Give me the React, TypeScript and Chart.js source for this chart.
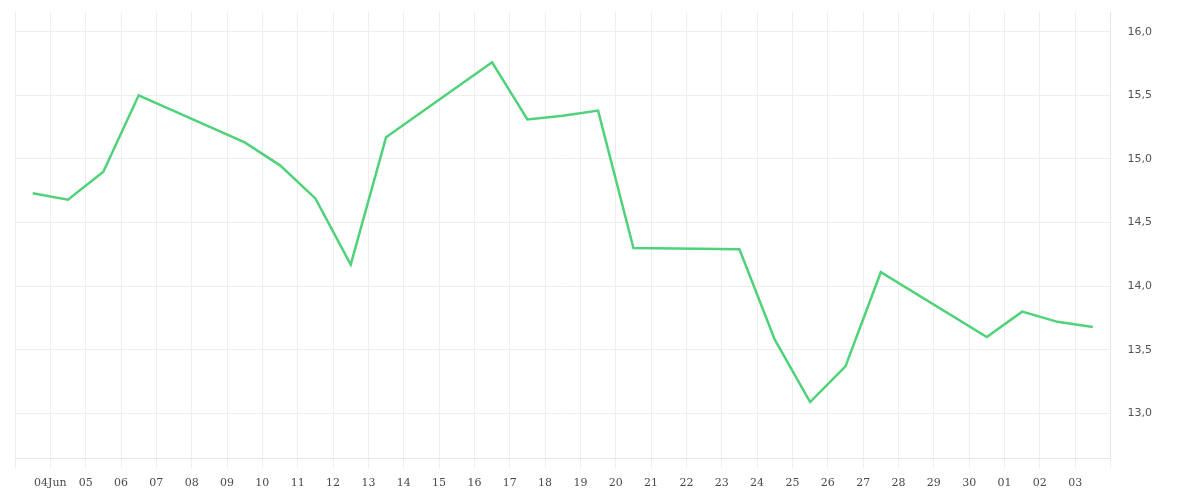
import { useEffect, useRef } from "react";
import Chart from "chart.js/auto";

// trading days (2025), one closing value each
const dates = [
	"2025-06-03", "2025-06-04", "2025-06-05", "2025-06-06",
	"2025-06-09", "2025-06-10", "2025-06-11", "2025-06-12", "2025-06-13",
	"2025-06-16", "2025-06-17", "2025-06-18", "2025-06-19", "2025-06-20",
	"2025-06-23", "2025-06-24", "2025-06-25", "2025-06-26", "2025-06-27",
	"2025-06-30", "2025-07-01", "2025-07-02", "2025-07-03"
];
const values = [
	14.73, 14.68, 14.9, 15.5,
	15.13, 14.95, 14.69, 14.17, 15.17,
	15.76, 15.31, 15.34, 15.38, 14.3,
	14.29, 13.58, 13.09, 13.37, 14.11,
	13.6, 13.8, 13.72, 13.68
];
const monthNames = ["Jan", "Feb", "Mar", "Apr", "May", "Jun", "Jul", "Aug", "Sep", "Oct", "Nov", "Dec"];
const startDay = "2025-06-03";
const endDay = "2025-07-04";
const yTicks = [13.0, 13.5, 14.0, 14.5, 15.0, 15.5, 16.0];

const DAY = 86400000;
const t0 = Date.parse(startDay);
const dayOf = (d: string) => (Date.parse(d) - t0) / DAY;

export default function App() {
	const canvasRef = useRef<HTMLCanvasElement>(null);

	useEffect(() => {
		if (!canvasRef.current) return;
		const lastDay = dayOf(endDay);
		const chart = new Chart(canvasRef.current, {
			type: "line",
			data: {
				datasets: [
					{
						data: dates.map((d, i) => ({ x: dayOf(d) + 0.5, y: values[i] })),
						borderColor: "#4fd27a",
						borderWidth: 2.5,
						pointRadius: 0,
						tension: 0,
						fill: false
					}
				]
			},
			options: {
				animation: false,
				responsive: true,
				maintainAspectRatio: false,
				parsing: false,
				layout: { padding: { left: 15, top: 12, right: 45, bottom: 2 } },
				plugins: { legend: { display: false }, tooltip: { enabled: false } },
				scales: {
					x: {
						type: "linear",
						min: 0,
						max: lastDay,
						grid: { color: "#eeeeee", tickLength: 10, lineWidth: 1 },
						border: { color: "#e6e6e6" },
						ticks: {
							stepSize: 1,
							autoSkip: false,
							maxRotation: 0,
							padding: 9.5,
							color: "#4a4a4a",
							font: { family: "'DejaVu Serif'", size: 11, lineHeight: 1 },
							callback: (v) => {
								const n = Number(v);
								if (n <= 0 || n >= lastDay) return "";
								const d = new Date(t0 + n * DAY);
								const dd = String(d.getUTCDate()).padStart(2, "0");
								return n === 1 ? dd + monthNames[d.getUTCMonth()] : dd;
							}
						}
					},
					y: {
						position: "right",
						min: 12.65,
						max: 16.155,
						afterBuildTicks: (axis) => {
							axis.ticks = yTicks.map((v) => ({ value: v }));
						},
						grid: { color: "#eeeeee", tickLength: 14, tickColor: "rgba(0,0,0,0)" },
						border: { color: "#e6e6e6" },
						ticks: {
							padding: 3,
							color: "#555",
							font: { family: "'DejaVu Sans'", size: 11 },
							callback: (v) => Number(v).toFixed(1).replace(".", ",")
						}
					}
				}
			}
		});
		return () => chart.destroy();
	}, []);

	return (
		<div style={{ position: "absolute", left: 0, top: 0, width: 1200, height: 500 }}>
			<canvas ref={canvasRef} />
		</div>
	);
}
